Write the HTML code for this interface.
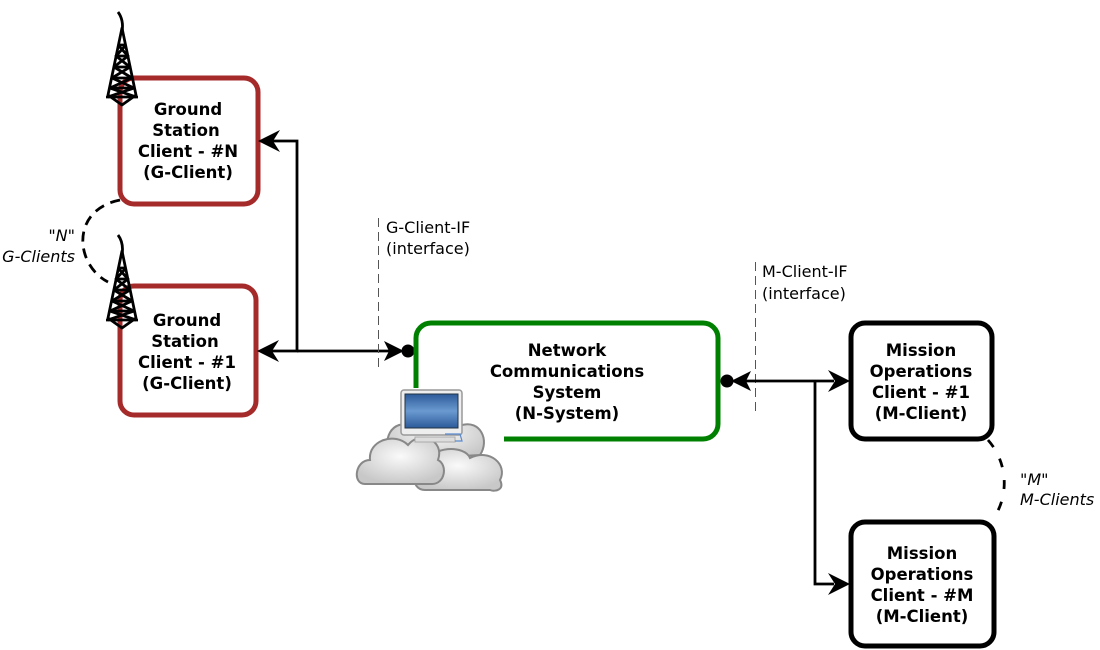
<!DOCTYPE html>
<html><head><meta charset="utf-8"><style>
html,body{margin:0;padding:0;background:#fff}
svg{display:block}
text{font-family:"DejaVu Sans","Liberation Sans",sans-serif}
.b{font-weight:bold;font-size:16.5px;text-anchor:middle}
.s{font-size:16px}
</style></head><body>
<svg width="1100" height="650" viewBox="0 0 1100 650" xmlns="http://www.w3.org/2000/svg">
<defs>
<g id="tower" fill="none" stroke="#000" stroke-width="2.8" stroke-linejoin="round">
<path d="M118,12 Q124,20 122,32"/>
<path d="M122,28 L108,95 L122,105 L136,95 Z"/>
<path d="M106,97 L138,97"/>
<path d="M118,45 L126,45 M116,56 L128,56 M114,67 L130,67 M112,78 L132,78 M110,88 L134,88"/>
<path d="M118,45 L128,56 L114,67 L132,78 L110,88 L136,97 M126,45 L116,56 L130,67 L112,78 L134,88 L108,97"/>
</g>
<linearGradient id="scr" x1="0" y1="0" x2="0" y2="1"><stop offset="0" stop-color="#2c5a9a"/><stop offset="0.5" stop-color="#6a9ad0"/><stop offset="1" stop-color="#2c5a9a"/></linearGradient>
<radialGradient id="cl" cx="0.5" cy="0.4" r="0.6"><stop offset="0" stop-color="#fafafa"/><stop offset="1" stop-color="#c8c8c8"/></radialGradient>
</defs>

<rect x="120" y="78" width="138" height="126" rx="14" fill="#fff" stroke="#a52a2a" stroke-width="5"/>
<text class="b" x="188" y="115">Ground</text>
<text class="b" x="186" y="136">Station</text>
<text class="b" x="188" y="157">Client - #N</text>
<text class="b" x="188" y="178">(G-Client)</text>
<use href="#tower"/>

<rect x="120" y="286" width="136" height="129" rx="14" fill="#fff" stroke="#a52a2a" stroke-width="5"/>
<text class="b" x="187" y="326">Ground</text>
<text class="b" x="185" y="347">Station</text>
<text class="b" x="187" y="368">Client - #1</text>
<text class="b" x="187" y="389">(G-Client)</text>
<use href="#tower" transform="translate(0,223)"/>

<path d="M120,200 C70,210 75,265 108,282" fill="none" stroke="#000" stroke-width="2.8" stroke-dasharray="10,7"/>
<text class="s" x="75" y="241" font-style="italic" text-anchor="end">"N"</text>
<text class="s" x="75" y="262" font-style="italic" text-anchor="end">G-Clients</text>

<g stroke="#000" stroke-width="2.8" fill="none">
<path d="M272,141 L297,141 L297,351 L272,351"/>
<path d="M297,351 L396,351"/>
</g>
<path d="M258,141 L280,130 L273,141 L280,152 Z" fill="#000"/>
<path d="M257,351 L279,340 L272,351 L279,362 Z" fill="#000"/>
<path d="M404,351 L384,341 L389,351 L384,361 Z" fill="#000"/>
<circle cx="408" cy="351" r="6.5" fill="#000"/>

<line x1="378.5" y1="218" x2="378.5" y2="368" stroke="#555" stroke-width="1" stroke-dasharray="9,5"/>
<line x1="755.5" y1="262" x2="755.5" y2="412" stroke="#555" stroke-width="1" stroke-dasharray="9,5"/>
<text class="s" x="386" y="233">G-Client-IF</text>
<text class="s" x="386" y="254">(interface)</text>
<text class="s" x="762" y="277">M-Client-IF</text>
<text class="s" x="762" y="299">(interface)</text>

<rect x="416" y="323" width="302" height="116" rx="15" fill="#fff" stroke="#008000" stroke-width="5"/>
<text class="b" x="567" y="356">Network</text>
<text class="b" x="567" y="377">Communications</text>
<text class="b" x="567" y="398">System</text>
<text class="b" x="567" y="419">(N-System)</text>

<rect x="400" y="388" width="104" height="55" fill="#fff"/>
<g stroke="#888" stroke-width="2" fill="url(#cl)">
<path d="M392,460 C380,440 392,418 412,426 C418,410 455,410 462,425 C480,420 490,440 480,455 Z"/>
<path d="M425,490 C410,490 410,465 428,465 C430,445 465,445 470,458 C490,448 508,465 500,480 C505,490 495,492 490,490 Z"/>
<path d="M365,484 C352,484 355,460 370,460 C368,440 395,432 408,445 C420,430 445,440 438,460 C448,465 445,484 432,484 Z"/>
</g>
<rect x="401" y="390" width="61" height="45" rx="3" fill="#eee" stroke="#999" stroke-width="1.5"/>
<rect x="405" y="394" width="53" height="34" fill="url(#scr)" stroke="#234" stroke-width="1"/>
<rect x="415" y="437" width="40" height="5" fill="#ddd" stroke="#aaa" stroke-width="1"/>
<path d="M445,434 L460,434 L462,441 L455,441" fill="none" stroke="#5a8ad0" stroke-width="1.2"/>

<circle cx="727" cy="381" r="6.5" fill="#000"/>
<path d="M731,381 L751,371 L746,381 L751,391 Z" fill="#000"/>
<g stroke="#000" stroke-width="2.8" fill="none">
<path d="M746,381 L834,381"/>
<path d="M815,381 L815,584 L834,584"/>
</g>
<path d="M850,381 L828,370 L835,381 L828,392 Z" fill="#000"/>
<path d="M850,584 L828,573 L835,584 L828,595 Z" fill="#000"/>

<rect x="851" y="323" width="141" height="116" rx="14" fill="#fff" stroke="#000" stroke-width="5"/>
<text class="b" x="921" y="356">Mission</text>
<text class="b" x="921" y="377">Operations</text>
<text class="b" x="921" y="398">Client - #1</text>
<text class="b" x="921" y="419">(M-Client)</text>

<rect x="851" y="522" width="143" height="124" rx="14" fill="#fff" stroke="#000" stroke-width="5"/>
<text class="b" x="922" y="559">Mission</text>
<text class="b" x="922" y="580">Operations</text>
<text class="b" x="922" y="601">Client - #M</text>
<text class="b" x="922" y="622">(M-Client)</text>

<path d="M988,440 C1010,465 1008,500 992,520" fill="none" stroke="#000" stroke-width="2.8" stroke-dasharray="9,13"/>
<text class="s" x="1020" y="485" font-style="italic">"M"</text>
<text class="s" x="1020" y="505" font-style="italic">M-Clients</text>
</svg>
</body></html>
